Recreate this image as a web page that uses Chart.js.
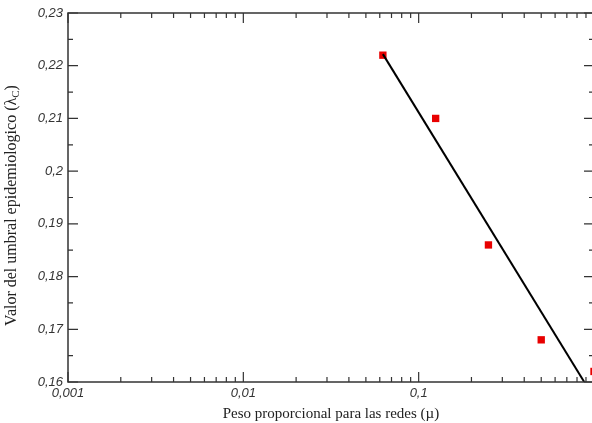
<!DOCTYPE html>
<html lang="es">
<head>
  <meta charset="UTF-8" />
  <title>Umbral epidemiologico</title>
  <script src="https://cdn.jsdelivr.net/npm/chart.js"></script>
  <style>
    html, body { margin: 0; padding: 0; background: #fff; overflow: hidden; }
    #wrap { width: 600px; height: 423px; }
  </style>
</head>
<body>
  <div id="wrap"><canvas id="chart" width="600" height="423"></canvas></div>

  <script>
    // data
    const muValues = [0.0625, 0.125, 0.25, 0.5, 1.0];
    const lambdaValues = [0.222, 0.210, 0.186, 0.168, 0.162];
    const fitMu = [0.0625, 0.88];
    const fitLambda = [0.2222, 0.16];
    const xTickLabels = [0.001, 0.01, 0.1, 1];
    const yTickLabels = [0.16, 0.17, 0.18, 0.19, 0.20, 0.21, 0.22, 0.23];

    const fmt = v => String(+v.toFixed(3)).replace('.', ',');
    const tickFont = { family: '"Liberation Sans", Arial, sans-serif', size: 13, style: 'italic' };

    // frame, inward ticks and the y title with subscript
    const framePlugin = {
      id: 'frame',
      afterDraw(chart) {
        const { ctx, chartArea: a, scales: { x, y } } = chart;
        ctx.save();
        ctx.strokeStyle = '#333';
        ctx.lineWidth = 1.5;
        ctx.strokeRect(a.left, a.top, a.right - a.left, a.bottom - a.top);

        ctx.lineWidth = 1.2;
        ctx.beginPath();
        for (let i = 0; i < yTickLabels.length; i++) {
          const py = y.getPixelForValue(yTickLabels[i]);
          ctx.moveTo(a.left, py); ctx.lineTo(a.left + 10, py);
          ctx.moveTo(a.right, py); ctx.lineTo(a.right - 10, py);
          if (i < yTickLabels.length - 1) {
            const pm = y.getPixelForValue((yTickLabels[i] + yTickLabels[i + 1]) / 2);
            ctx.moveTo(a.left, pm); ctx.lineTo(a.left + 5, pm);
            ctx.moveTo(a.right, pm); ctx.lineTo(a.right - 5, pm);
          }
        }
        xTickLabels.forEach(d => {
          const px = x.getPixelForValue(d);
          ctx.moveTo(px, a.bottom); ctx.lineTo(px, a.bottom - 10);
          ctx.moveTo(px, a.top); ctx.lineTo(px, a.top + 10);
          for (let k = 2; k <= 9; k++) {
            const v = d * k;
            if (v > x.max) break;
            const pm = x.getPixelForValue(v);
            ctx.moveTo(pm, a.bottom); ctx.lineTo(pm, a.bottom - 5);
            ctx.moveTo(pm, a.top); ctx.lineTo(pm, a.top + 5);
          }
        });
        ctx.stroke();

        // y title
        const cy = (a.top + a.bottom) / 2 + 8;
        ctx.translate(16, cy);
        ctx.rotate(-Math.PI / 2);
        ctx.fillStyle = '#222';
        const main = 'Valor del umbral epidemiologico (λ';
        const big = '16px "Liberation Serif", "Times New Roman", serif';
        const small = '11px "Liberation Serif", "Times New Roman", serif';
        ctx.font = big;
        const w1 = ctx.measureText(main).width;
        const w3 = ctx.measureText(')').width;
        ctx.font = small;
        const w2 = ctx.measureText('C').width;
        let sx = -(w1 + w2 + w3) / 2;
        ctx.textBaseline = 'alphabetic';
        ctx.font = big;
        ctx.fillText(main, sx, 0);
        sx += w1;
        ctx.font = small;
        ctx.fillText('C', sx, 3);
        sx += w2;
        ctx.font = big;
        ctx.fillText(')', sx, 0);
        ctx.restore();
      }
    };

    new Chart(document.getElementById('chart'), {
      type: 'scatter',
      data: {
        datasets: [
          {
            label: 'ajuste',
            data: fitMu.map((m, i) => ({ x: m, y: fitLambda[i] })),
            showLine: true,
            borderColor: '#000',
            borderWidth: 2,
            pointRadius: 0
          },
          {
            label: 'umbral',
            data: muValues.map((m, i) => ({ x: m, y: lambdaValues[i] })),
            pointStyle: 'rect',
            pointRadius: 5.2,
            backgroundColor: '#e80000',
            borderColor: '#e80000',
            borderWidth: 0
          }
        ]
      },
      options: {
        responsive: false,
        animation: false,
        layout: { padding: { top: 13, right: 6, left: 0, bottom: 0 } },
        plugins: {
          legend: { display: false },
          tooltip: { enabled: false }
        },
        scales: {
          x: {
            type: 'logarithmic',
            min: 0.001,
            max: 1,
            grid: { display: false, drawTicks: false },
            border: { display: false },
            afterBuildTicks: s => { s.ticks = xTickLabels.slice(0, 3).map(v => ({ value: v })); },
            afterFit: s => { s.height = 41; },
            ticks: {
              padding: 4,
              autoSkip: false,
              maxRotation: 0,
              color: '#333',
              font: tickFont,
              callback: v => fmt(v)
            },
            title: {
              display: true,
              text: 'Peso proporcional para las redes (µ)',
              color: '#222',
              padding: { top: 1, bottom: 0 },
              font: { family: '"Liberation Serif", "Times New Roman", serif', size: 15 }
            }
          },
          y: {
            min: 0.16,
            max: 0.23,
            grid: { display: false, drawTicks: false },
            border: { display: false },
            afterBuildTicks: s => { s.ticks = yTickLabels.map(v => ({ value: v })); },
            afterFit: s => { s.width = 68; },
            ticks: {
              padding: 5,
              color: '#333',
              font: tickFont,
              callback: v => fmt(v)
            }
          }
        }
      },
      plugins: [framePlugin]
    });
  </script>
</body>
</html>
